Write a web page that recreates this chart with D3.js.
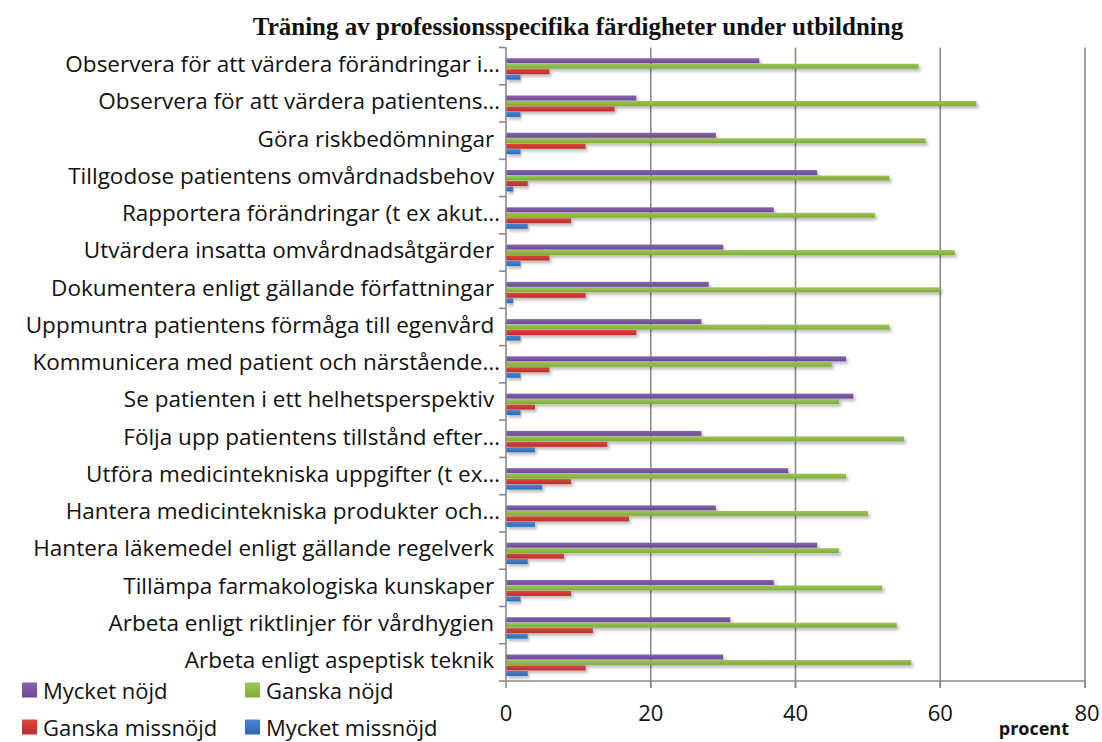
<!DOCTYPE html>
<html>
<head>
<meta charset="utf-8">
<script src="https://cdn.jsdelivr.net/npm/d3@7"></script>
<style>
  body { margin: 0; background: #fff; }
  svg { display: block; }
</style>
</head>
<body>
<div class="chart"></div>
<script>
const categories = [
  "Observera för att värdera förändringar i…",
  "Observera för att värdera patientens…",
  "Göra riskbedömningar ",
  "Tillgodose patientens omvårdnadsbehov ",
  "Rapportera förändringar (t ex akut…",
  "Utvärdera insatta omvårdnadsåtgärder ",
  "Dokumentera enligt gällande författningar ",
  "Uppmuntra patientens förmåga till egenvård ",
  "Kommunicera med patient och närstående…",
  "Se patienten i ett helhetsperspektiv ",
  "Följa upp patientens tillstånd efter…",
  "Utföra medicintekniska uppgifter (t ex…",
  "Hantera medicintekniska produkter och…",
  "Hantera läkemedel enligt gällande regelverk ",
  "Tillämpa farmakologiska kunskaper ",
  "Arbeta enligt riktlinjer för vårdhygien ",
  "Arbeta enligt aspeptisk teknik "
];

const mycketNojd     = [35, 18, 29, 43, 37, 30, 28, 27, 47, 48, 27, 39, 29, 43, 37, 31, 30];
const ganskaNojd     = [57, 65, 58, 53, 51, 62, 60, 53, 45, 46, 55, 47, 50, 46, 52, 54, 56];
const ganskaMissnojd = [ 6, 15, 11,  3,  9,  6, 11, 18,  6,  4, 14,  9, 17,  8,  9, 12, 11];
const mycketMissnojd = [ 2,  2,  2,  1,  3,  2,  1,  2,  2,  2,  4,  5,  4,  3,  2,  3,  3];

const seriesNames = ["Mycket nöjd", "Ganska nöjd", "Ganska missnöjd", "Mycket missnöjd"];
const xTicks = [0, 20, 40, 60, 80];

const width = 1102;
const height = 742;
const plotLeft = 506, plotRight = 1085, plotTop = 47.5, plotBottom = 681;

const colors = [
  ["#8763ad", "#6d4a93"],
  ["#9cc655", "#80aa3a"],
  ["#d8473f", "#bb2f29"],
  ["#4886d2", "#2f68b2"]
];

const seriesData = [mycketNojd, ganskaNojd, ganskaMissnojd, mycketMissnojd];
const rows = categories.map(function(c, i) {
  return { name: c, values: seriesData.map(function(s) { return s[i]; }) };
});

const svg = d3.select(".chart").append("svg")
  .attr("width", width)
  .attr("height", height);

const defs = svg.append("defs");

const shadow = defs.append("filter")
  .attr("id", "shadow")
  .attr("x", "-5%").attr("y", "-60%")
  .attr("width", "115%").attr("height", "280%");
shadow.append("feDropShadow")
  .attr("dx", 2).attr("dy", 2.5)
  .attr("stdDeviation", 1.8)
  .attr("flood-color", "#000")
  .attr("flood-opacity", 0.28);

colors.forEach(function(c, i) {
  const g = defs.append("linearGradient")
    .attr("id", "grad" + i)
    .attr("x1", 0).attr("y1", 0).attr("x2", 0).attr("y2", 1);
  g.append("stop").attr("offset", "0%").attr("stop-color", c[0]);
  g.append("stop").attr("offset", "100%").attr("stop-color", c[1]);
});

const x = d3.scaleLinear()
  .domain([0, 80])
  .range([plotLeft, plotRight]);

const y = d3.scaleBand()
  .domain(categories)
  .range([plotTop, plotBottom])
  .padding(0);

const y1 = d3.scaleBand()
  .domain(d3.range(4))
  .range([10.2, 32.7])
  .padding(0.1);

// title
svg.append("text")
  .attr("x", 578)
  .attr("y", 35)
  .style("text-anchor", "middle")
  .style("font-family", "'Liberation Serif', 'DejaVu Serif', serif")
  .style("font-weight", "bold")
  .style("font-size", "25px")
  .attr("fill", "#111")
  .text("Träning av professionsspecifika färdigheter under utbildning");

// gridlines
svg.append("g")
  .selectAll("line")
  .data(xTicks.slice(1))
  .enter()
  .append("line")
  .attr("x1", function(d) { return x(d); })
  .attr("x2", function(d) { return x(d); })
  .attr("y1", plotTop)
  .attr("y2", plotBottom + 7)
  .attr("stroke", "#8a8a8a")
  .attr("stroke-width", 1.6);

// bars
const group = svg.append("g")
  .selectAll("g")
  .data(rows)
  .enter()
  .append("g")
  .attr("transform", function(d) { return "translate(0," + y(d.name) + ")"; });

group.selectAll("rect")
  .data(function(d) { return d.values; })
  .enter()
  .append("rect")
  .attr("x", x(0))
  .attr("y", function(d, i) { return y1(i); })
  .attr("width", function(d) { return x(d) - x(0); })
  .attr("height", y1.bandwidth())
  .attr("fill", function(d, i) { return "url(#grad" + i + ")"; })
  .attr("filter", "url(#shadow)");

// y axis
const yAxis = svg.append("g")
  .attr("transform", "translate(" + plotLeft + ",0)");

yAxis.append("line")
  .attr("x1", 0).attr("x2", 0)
  .attr("y1", plotTop).attr("y2", plotBottom)
  .attr("stroke", "#8a8a8a")
  .attr("stroke-width", 1.6);

yAxis.selectAll(".tick")
  .data(categories.concat(["end"]))
  .enter()
  .append("line")
  .attr("x1", -7).attr("x2", 0)
  .attr("y1", function(d, i) { return plotTop + i * y.step(); })
  .attr("y2", function(d, i) { return plotTop + i * y.step(); })
  .attr("stroke", "#8a8a8a")
  .attr("stroke-width", 1.6);

svg.append("g")
  .selectAll("text")
  .data(categories)
  .enter()
  .append("text")
  .attr("x", 500)
  .attr("y", function(d) { return y(d) + y.bandwidth() / 2 - 2; })
  .attr("dy", "0.35em")
  .style("text-anchor", "end")
  .style("white-space", "pre")
  .style("font-family", "'Open Sans', sans-serif")
  .style("font-size", "22.5px")
  .attr("fill", "#111")
  .text(function(d) { return d; });

// x axis
const xAxis = svg.append("g")
  .attr("transform", "translate(0," + plotBottom + ")");

xAxis.append("line")
  .attr("x1", plotLeft).attr("x2", plotRight)
  .attr("y1", 0).attr("y2", 0)
  .attr("stroke", "#8a8a8a")
  .attr("stroke-width", 1.6);

xAxis.selectAll(".tick")
  .data(xTicks)
  .enter()
  .append("line")
  .attr("x1", function(d) { return x(d); })
  .attr("x2", function(d) { return x(d); })
  .attr("y1", 0).attr("y2", 7)
  .attr("stroke", "#8a8a8a")
  .attr("stroke-width", 1.6);

xAxis.selectAll("text")
  .data(xTicks)
  .enter()
  .append("text")
  .attr("x", function(d) { return d === 80 ? x(d) + 2 : x(d); })
  .attr("y", 32)
  .attr("dy", "0.35em")
  .style("text-anchor", "middle")
  .style("font-family", "'Open Sans', sans-serif")
  .style("font-size", "22px")
  .attr("fill", "#111")
  .text(function(d) { return d; });

svg.append("text")
  .attr("x", 1069)
  .attr("y", 735)
  .style("text-anchor", "end")
  .style("font-family", "'Open Sans', sans-serif")
  .style("font-weight", "bold")
  .style("font-size", "18px")
  .attr("fill", "#111")
  .text("procent");

// legend
const legendPos = [[22, 698.5], [245, 698.5], [22, 735.5], [245, 735.5]];

const legend = svg.append("g")
  .selectAll("g")
  .data(seriesNames)
  .enter()
  .append("g")
  .attr("transform", function(d, i) { return "translate(" + legendPos[i][0] + "," + legendPos[i][1] + ")"; });

legend.append("rect")
  .attr("x", 0).attr("y", -16)
  .attr("width", 15).attr("height", 15)
  .attr("fill", function(d, i) { return "url(#grad" + i + ")"; });

legend.append("text")
  .attr("x", 21)
  .attr("y", 0)
  .style("font-family", "'Open Sans', sans-serif")
  .style("font-size", "22px")
  .attr("fill", "#111")
  .text(function(d) { return d; });
</script>
</body>
</html>
